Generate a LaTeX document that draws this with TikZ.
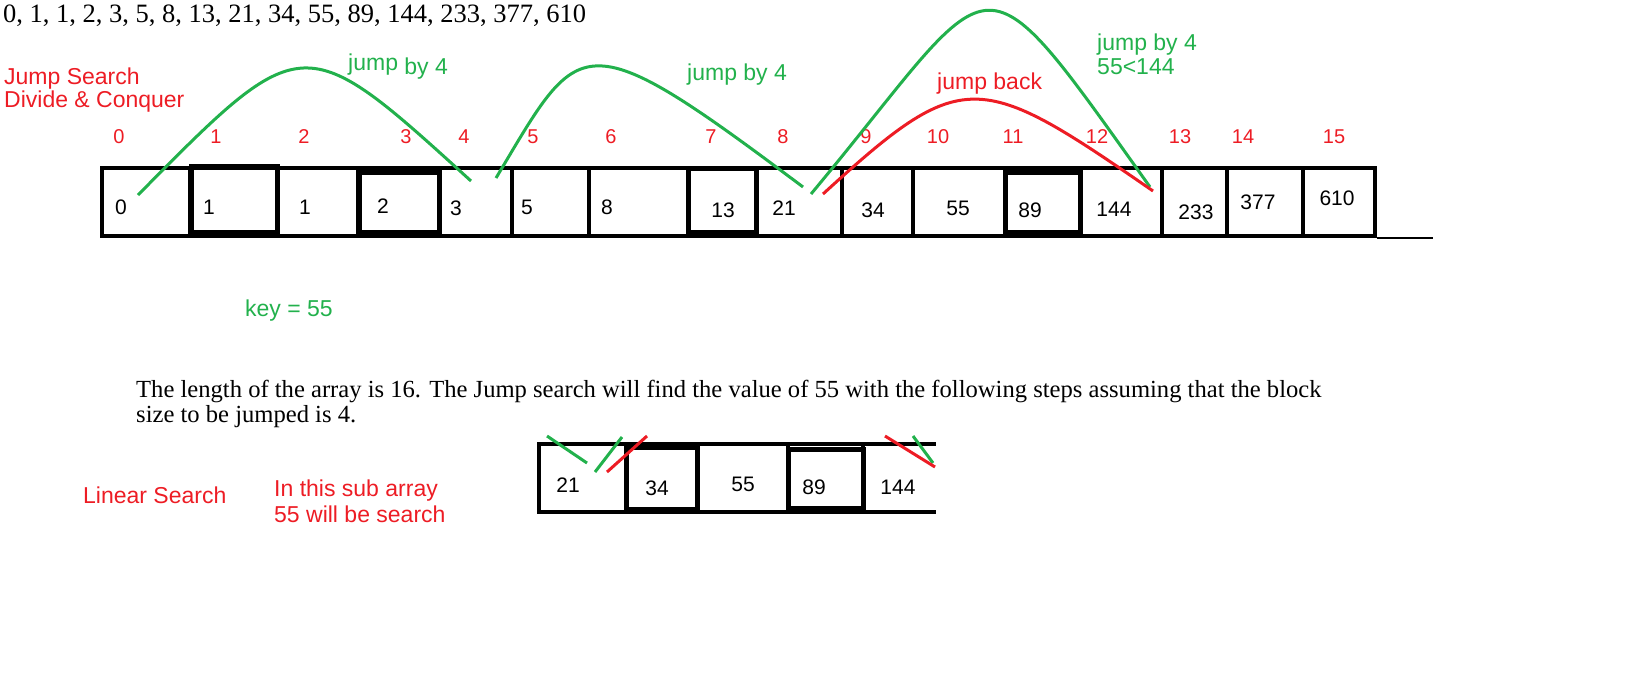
\documentclass[tikz,border=0pt]{standalone}
\usepackage{fontspec}
\setmainfont{Liberation Serif}
\setsansfont{Liberation Sans}
\usetikzlibrary{positioning}
\definecolor{pred}{RGB}{237,28,36}
\definecolor{pgreen}{RGB}{34,177,76}

\begin{document}
\begin{tikzpicture}[x=1pt, y=-1pt,
  cell/.style={draw, line width=4pt, inner sep=0pt, minimum height=68},
  inbox/.style={draw, line width=5pt, inner sep=0pt},
  val/.style={font=\sffamily\fontsize{21}{21}\selectfont, inner sep=0pt},
  idx/.style={font=\sffamily\fontsize{20}{20}\selectfont, text=pred, inner sep=0pt},
  note/.style={font=\sffamily\fontsize{23}{23}\selectfont, inner sep=0pt, anchor=west},
  prose/.style={font=\fontsize{24.6}{24.6}\selectfont, inner sep=0pt, anchor=west},
  jump/.style={line width=3pt, draw=pgreen},
  back/.style={line width=3pt, draw=pred}]

  \useasboundingbox (0,0) rectangle (1643,686);

  \node[prose, font=\fontsize{26.5}{26.5}\selectfont] (seq) at (3,16)
  {0, 1, 1, 2, 3, 5, 8, 13, 21, 34, 55, 89, 144, 233, 377, 610};

  \node[note, text=pred] (title) at (4,79) {Jump Search};
  \node[note, text=pred] (dc) at (4,102) {Divide \& Conquer};

  % the array
  \node[cell, minimum width=88] (c0) at (146,202) {};
  \node[cell, minimum width=87] (c1) at (233.5,202) {};
  \node[cell, minimum width=81] (c2) at (317.5,202) {};
  \node[cell, minimum width=81] (c3) at (398.5,202) {};
  \node[cell, minimum width=73] (c4) at (475.5,202) {};
  \node[cell, minimum width=77] (c5) at (550.5,202) {};
  \node[cell, minimum width=99] (c6) at (638.5,202) {};
  \node[cell, minimum width=68] (c7) at (722,202) {};
  \node[cell, minimum width=86] (c8) at (799,202) {};
  \node[cell, minimum width=71] (c9) at (877.5,202) {};
  \node[cell, minimum width=92] (c10) at (959,202) {};
  \node[cell, minimum width=75] (c11) at (1042.5,202) {};
  \node[cell, minimum width=82] (c12) at (1121,202) {};
  \node[cell, minimum width=65] (c13) at (1194.5,202) {};
  \node[cell, minimum width=76] (c14) at (1265,202) {};
  \node[cell, minimum width=72] (c15) at (1339,202) {};

  \node[inbox, minimum width=86, minimum height=66] (b1) at (234,199) {};
  \node[inbox, minimum width=80, minimum height=60] (b3) at (399,202) {};
  \node[inbox, minimum width=68, minimum height=64] (b7) at (722,200) {};
  \node[inbox, minimum width=75, minimum height=60] (b11) at (1042.5,202) {};

  \coordinate (tail) at (1433,238);
  \draw[line width=1.5pt] (c15.south east) -- (tail);

  \node[val] (v0) at (121,207) {0};
  \node[val] (v1) at (209,207) {1};
  \node[val] (v2) at (305,207) {1};
  \node[val] (v3) at (383,206) {2};
  \node[val] (v4) at (456,208) {3};
  \node[val] (v5) at (527,207) {5};
  \node[val] (v6) at (607,207) {8};
  \node[val] (v7) at (723,210) {13};
  \node[val] (v8) at (784,208) {21};
  \node[val] (v9) at (873,210) {34};
  \node[val] (v10) at (958,208) {55};
  \node[val] (v11) at (1030,210) {89};
  \node[val] (v12) at (1114,209) {144};
  \node[val] (v13) at (1196,212) {233};
  \node[val] (v14) at (1258,202) {377};
  \node[val] (v15) at (1337,198) {610};

  % indices
  \node[idx] (i0) at (119,137) {0};
  \node[idx] (i1) at (216,137) {1};
  \node[idx] (i2) at (304,137) {2};
  \node[idx] (i3) at (406,137) {3};
  \node[idx] (i4) at (464,137) {4};
  \node[idx] (i5) at (533,137) {5};
  \node[idx] (i6) at (611,137) {6};
  \node[idx] (i7) at (711,137) {7};
  \node[idx] (i8) at (783,137) {8};
  \node[idx] (i9) at (866,137) {9};
  \node[idx] (i10) at (938,137) {10};
  \node[idx] (i11) at (1013,137) {11};
  \node[idx] (i12) at (1097,137) {12};
  \node[idx] (i13) at (1180,137) {13};
  \node[idx] (i14) at (1243,137) {14};
  \node[idx] (i15) at (1334,137) {15};

  % jumps
  \coordinate (a1s) at (138,195);
  \coordinate (a1e) at (471,181);
  \coordinate (a2s) at (496,178);
  \coordinate (a2e) at (803,187);
  \coordinate (a3s) at (811,194);
  \coordinate (a3e) at (1150,187);
  \coordinate (r1s) at (823,194);
  \coordinate (r1e) at (1153,191);

  \draw[jump] (a1s) .. controls (303,28) .. (a1e);
  \draw[jump] (a2s) .. controls (581,36) and (578,18) .. (a2e);
  \draw[jump] (a3s) .. controls (1002,-35) and (971,-64) .. (a3e);
  \draw[back] (r1s) .. controls (963,66) and (978,70) .. (r1e);

  \node[note, text=pgreen] (j1) at (348,67) {jump \raisebox{-4pt}{by 4}};
  \node[note, text=pgreen] (j2) at (687,75) {jump by 4};
  \node[note, text=pgreen] (j3) at (1097,45) {jump by 4};
  \node[note, text=pgreen] (cmp) at (1097,67) {55<144};
  \node[note, text=pred] (jb) at (937,84) {jump back};

  \node[note, text=pgreen] (key) at (245,311) {key = 55};

  \node[prose] (p1) at (136,391)
  {The length of the array is 16. The Jump search will find the value of 55 with the following steps assuming that the block};
  \node[prose] (p2) at (136,417) {size to be jumped is 4.};

  % sub array
  \node[cell, minimum width=87] (s0) at (582.5,478) {};
  \node[cell, minimum width=71] (s1) at (661.5,478) {};
  \node[cell, minimum width=91] (s2) at (742.5,478) {};
  \node[cell, minimum width=75] (s3) at (825.5,478) {};
  \node[inner sep=0pt, outer sep=0pt, minimum width=73, minimum height=68] (s4) at (899.5,478) {};
  \draw[line width=4pt] (s4.north west) -- (s4.north east);
  \draw[line width=4pt] (s4.south west) -- (s4.south east);

  \node[inbox, minimum width=71, minimum height=62] (t1) at (661.5,478) {};
  \node[inbox, minimum width=75, minimum height=59] (t3) at (825.5,478.5) {};

  \node[val] (w0) at (568,485) {21};
  \node[val] (w1) at (657,488) {34};
  \node[val] (w2) at (743,484) {55};
  \node[val] (w3) at (814,487) {89};
  \node[val] (w4) at (898,487) {144};

  \coordinate (g1s) at (547,436);
  \coordinate (g1e) at (587,463);
  \coordinate (g2s) at (595,472);
  \coordinate (g2e) at (622,437);
  \coordinate (r2s) at (607,472);
  \coordinate (r2e) at (647,436);
  \coordinate (r3s) at (885,436);
  \coordinate (r3e) at (935,467);
  \coordinate (g3s) at (913,436);
  \coordinate (g3e) at (933,463);
  \draw[jump] (g1s) -- (g1e);
  \draw[jump] (g2s) -- (g2e);
  \draw[back] (r2s) -- (r2e);
  \draw[jump] (g3s) -- (g3e);
  \draw[back] (r3s) -- (r3e);

  \node[note, text=pred] (lin) at (83,495) {Linear Search};
  \node[note, text=pred] (sub1) at (274,491) {In this sub array};
  \node[note, text=pred] (sub2) at (274,514) {55 will be search};

\end{tikzpicture}
\end{document}
